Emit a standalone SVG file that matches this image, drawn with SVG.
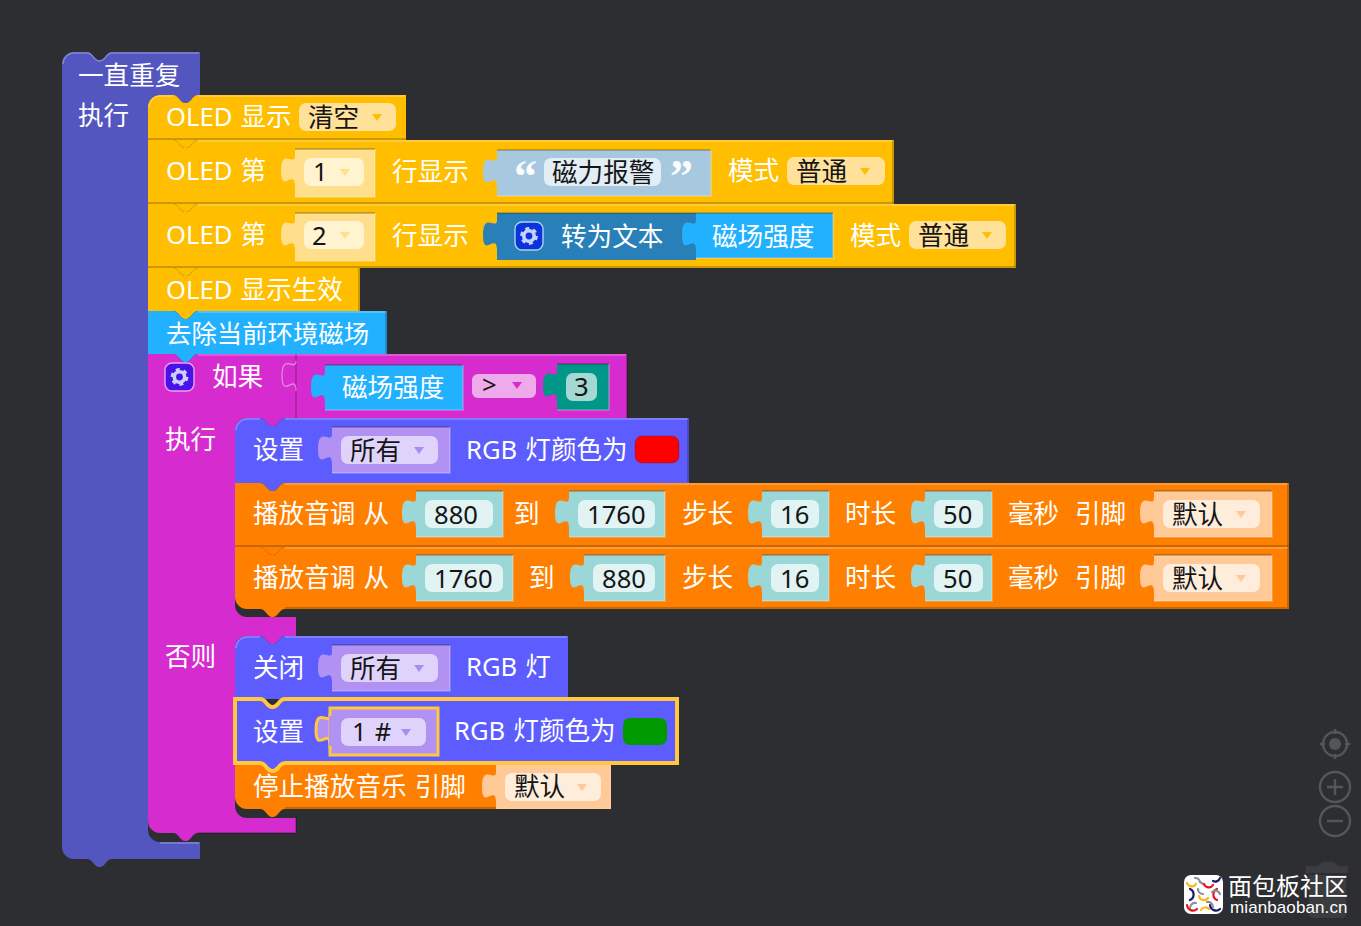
<svg xmlns="http://www.w3.org/2000/svg" xmlns:xlink="http://www.w3.org/1999/xlink" width="1361" height="926" viewBox="0 0 1361 926">
<style>
text{font-family:"Noto Sans","Noto Sans CJK SC",sans-serif;font-size:25.6px;fill:#fff;word-spacing:1.500px}
.f{fill:#151515}
.q{font-family:"Liberation Serif",serif;font-size:46px;font-weight:700}
.hi{fill:none;stroke:#fff;stroke-opacity:.28;stroke-width:1.5}
.lo{fill:none;stroke:#000;stroke-opacity:.2;stroke-width:2}
.top{fill:none;stroke:#000;stroke-opacity:.4;stroke-width:1.2}
.edge{fill:none;stroke:#fff;stroke-opacity:.2;stroke-width:2}
.yel{fill:#ffbf00}.yv{fill:#ffdf8c}.yf{fill:#fff3d0}.yd{fill:#ffe199}.ya{fill:#ffbf00}.yp{fill:#ffdf8c}
.sky{fill:#22b1ff}.pur{fill:#5c5cff}.pv{fill:#b192f2}.pf{fill:#e0d3fb}.pa{fill:#a98cf0}
.org{fill:#ff8000}.tv{fill:#9bd7d7}.tf{fill:#e1f3f3}.ov{fill:#ffc998}.of{fill:#ffeddc}.oa{fill:#ffc998}
.mag{fill:#d62ccf}.for{fill:#5356be}
.ctl{fill:none;stroke:#55565a;stroke-width:2.4}
</style>
<defs>
<path id="tab" d="M1 7H0c0 11-14-9-14 15s14-4 14 16h1z"/>
<polygon id="arr" points="-5,-3 5,-3 0,4"/>
<g id="gear">
<circle r="5.2" fill="none" stroke="#c9d2ff" stroke-width="3.6"/>
<circle r="7.6" fill="none" stroke="#c9d2ff" stroke-width="2.6" stroke-dasharray="4 3.96"/>
</g>
</defs>
<rect width="1361" height="926" fill="#2d2e32"/>

<!-- repeat-forever wrapper -->
<g id="forever">
<path class="for" d="M62 64a12 12 0 0 1 12-12h13c3 0 5 2 7 5c2 2 3 3 5 3h1c2 0 3-1 5-3c2-3 4-5 7-5H200V95H198c-3 0-5 2-7 5c-2 2-3 3-5 3h-1c-2 0-3-1-5-3c-2-3-4-5-7-5H160a12 12 0 0 0-12 12V830a12 12 0 0 0 12 12H200V859H112c-3 0-5 2-7 5c-2 2-3 3-5 3h-1c-2 0-3-1-5-3c-2-3-4-5-7-5H74a12 12 0 0 1-12-12z"/>
<path class="hi" d="M63 64a11 11 0 0 1 11-11h13c3 0 5 2 7 5c2 2 3 3 5 3h1c2 0 3-1 5-3c2-3 4-5 7-5H199M160 843H199"/>
<text x="78" y="85">一直重复</text>
<text x="78" y="125">执行</text>
</g>

<!-- if / else wrapper -->
<g id="if-else">
<path class="mag" d="M148 354H173c3 0 5 2 7 5c2 2 3 3 5 3h1c2 0 3-1 5-3c2-3 4-5 7-5H627V418H285c-3 0-5 2-7 5c-2 2-3 3-5 3h-1c-2 0-3-1-5-3c-2-3-4-5-7-5H247a12 12 0 0 0-12 12V605a12 12 0 0 0 12 12H296V636H285c-3 0-5 2-7 5c-2 2-3 3-5 3h-1c-2 0-3-1-5-3c-2-3-4-5-7-5H247a12 12 0 0 0-12 12V806a12 12 0 0 0 12 12H296V833H198c-3 0-5 2-7 5c-2 2-3 3-5 3h-1c-2 0-3-1-5-3c-2-3-4-5-7-5H160a12 12 0 0 1-12-12z"/>
<path class="hi" d="M198 355H626"/>
<path class="lo" d="M627 354V418M296 833H198M296 817V833"/>
<path d="M296 354V418" stroke="#000" stroke-opacity=".3" stroke-width="1.2"/>
<path fill="none" stroke="#fff" stroke-opacity=".45" stroke-width="1.2" d="M296 361c0 11-14-9-14 15s14-4 14 15"/>
<rect x="165" y="363" width="29" height="28" rx="7" fill="#4a12e8" stroke="#f0a0ee" stroke-width="1.4"/>
<use href="#gear" x="179.500" y="377"/>
<text x="212" y="386">如果</text>
<text x="165" y="449">执行</text>
<text x="165" y="666">否则</text>
</g>

<!-- OLED clear -->
<g id="oled-clear">
<path class="yel" d="M148 107a12 12 0 0 1 12-12h13c3 0 5 2 7 5c2 2 3 3 5 3h1c2 0 3-1 5-3c2-3 4-5 7-5H406V140H198c-3 0-5 2-7 5c-2 2-3 3-5 3h-1c-2 0-3-1-5-3c-2-3-4-5-7-5H148z"/>
<path class="hi" d="M149 107a11 11 0 0 1 11-11h13M198 96H405"/>
<rect class="yd" x="299" y="103" width="97" height="28" rx="7"/>
<use class="ya" href="#arr" x="377" y="117"/>
<text x="166" y="126">OLED 显示</text>
<text class="f" x="308" y="127">清空</text>
</g>

<!-- OLED line 1 -->
<g id="oled-line-1">
<path class="yel" d="M148 140H173c3 0 5 2 7 5c2 2 3 3 5 3h1c2 0 3-1 5-3c2-3 4-5 7-5H894V204H198c-3 0-5 2-7 5c-2 2-3 3-5 3h-1c-2 0-3-1-5-3c-2-3-4-5-7-5H148z"/>
<path class="lo" d="M148 139H406M893 140V203"/>
<path class="hi" d="M198 141H893"/>
<use class="yv" href="#tab" x="295" y="149"/>
<rect class="yv" x="295" y="149" width="80" height="48"/>
<path class="top" d="M295 149H375"/>
<path class="edge" d="M295 197H375V149"/>
<rect class="yf" x="304" y="158" width="60" height="28" rx="7"/>
<use class="yp" href="#arr" x="345" y="172"/>
<text class="f" x="313" y="181">1</text>
<text x="166" y="180">OLED 第</text>
<text x="392" y="181">行显示</text>
<use fill="#a8c8e0" href="#tab" x="497" y="150"/>
<rect x="497" y="150" width="214" height="46" fill="#a8c8e0"/>
<path class="top" d="M497 150H711"/>
<path class="edge" d="M497 196H711V150"/>
<rect x="544" y="158" width="117" height="28" rx="7" fill="#e2edf6"/>
<text class="f" x="552" y="182">磁力报警</text>
<text class="q" x="514" y="192" fill-opacity=".95">“</text>
<text class="q" x="670" y="192" fill-opacity=".95">”</text>
<text x="728" y="180">模式</text>
<rect class="yd" x="787" y="157" width="98" height="28" rx="7"/>
<use class="ya" href="#arr" x="865" y="171"/>
<text class="f" x="796" y="181">普通</text>
</g>

<!-- OLED line 2 -->
<g id="oled-line-2">
<path class="yel" d="M148 204H173c3 0 5 2 7 5c2 2 3 3 5 3h1c2 0 3-1 5-3c2-3 4-5 7-5H1016V268H198c-3 0-5 2-7 5c-2 2-3 3-5 3h-1c-2 0-3-1-5-3c-2-3-4-5-7-5H148z"/>
<path class="lo" d="M148 203H894M1015 204V267"/>
<path class="hi" d="M198 205H1015"/>
<use class="yv" href="#tab" x="295" y="213"/>
<rect class="yv" x="295" y="213" width="80" height="48"/>
<path class="top" d="M295 213H375"/>
<path class="edge" d="M295 261H375V213"/>
<rect class="yf" x="304" y="221" width="60" height="28" rx="7"/>
<use class="yp" href="#arr" x="345" y="235"/>
<text class="f" x="312" y="245">2</text>
<text x="166" y="244">OLED 第</text>
<text x="392" y="245">行显示</text>
<use fill="#2980b9" href="#tab" x="497" y="213"/>
<rect x="497" y="213" width="199" height="47" fill="#2980b9"/>
<path class="top" d="M497 213H696"/>
<rect x="515" y="222" width="28" height="28" rx="7" fill="#0a35dd" stroke="#a9d2f0" stroke-width="1.4"/>
<use href="#gear" x="529" y="236"/>
<text x="561" y="246">转为文本</text>
<use class="sky" href="#tab" x="696" y="213"/>
<rect class="sky" x="696" y="213" width="137" height="45"/>
<path class="top" d="M696 213H833"/>
<path class="edge" d="M696 258H833V213"/>
<text x="712" y="246">磁场强度</text>
<text x="850" y="245">模式</text>
<rect class="yd" x="909" y="221" width="97" height="28" rx="7"/>
<use class="ya" href="#arr" x="987" y="235"/>
<text class="f" x="918" y="245">普通</text>
</g>

<!-- OLED refresh -->
<g id="oled-refresh">
<path class="yel" d="M148 268H173c3 0 5 2 7 5c2 2 3 3 5 3h1c2 0 3-1 5-3c2-3 4-5 7-5H360V311H198c-3 0-5 2-7 5c-2 2-3 3-5 3h-1c-2 0-3-1-5-3c-2-3-4-5-7-5H148z"/>
<path class="lo" d="M148 267H1016M359 268V311"/>
<text x="166" y="299">OLED 显示生效</text>
</g>

<!-- remove ambient magnetic field -->
<g id="remove-ambient">
<path class="sky" d="M148 311H173c3 0 5 2 7 5c2 2 3 3 5 3h1c2 0 3-1 5-3c2-3 4-5 7-5H387V354H198c-3 0-5 2-7 5c-2 2-3 3-5 3h-1c-2 0-3-1-5-3c-2-3-4-5-7-5H148z"/>
<path class="hi" d="M198 312H386"/>
<path class="lo" d="M386 311V354"/>
<text x="166" y="343" style="font-size:25.400px">去除当前环境磁场</text>
</g>

<!-- condition: field strength > 3 -->
<g id="condition">
<use class="sky" href="#tab" x="325" y="365"/>
<rect class="sky" x="325" y="365" width="138" height="45"/>
<path class="top" d="M325 365H463"/>
<path class="edge" d="M325 410H463V365"/>
<text x="342" y="397">磁场强度</text>
<rect x="472" y="374" width="64" height="24" rx="6" fill="#efaaeb"/>
<text class="f" x="482" y="394">&gt;</text>
<use fill="#d62ccf" href="#arr" x="517" y="385"/>
<use fill="#009688" href="#tab" x="557" y="364"/>
<rect x="557" y="364" width="52" height="46" fill="#009688"/>
<path class="top" d="M557 364H609"/>
<path class="edge" d="M557 410H609V364"/>
<rect x="566" y="373" width="31" height="28" rx="7" fill="#a3d8d3"/>
<text class="f" x="574" y="396">3</text>
</g>

<!-- then branch -->
<g id="rgb-all-red">
<path class="pur" d="M235 430a12 12 0 0 1 12-12h13c3 0 5 2 7 5c2 2 3 3 5 3h1c2 0 3-1 5-3c2-3 4-5 7-5H689V483H285c-3 0-5 2-7 5c-2 2-3 3-5 3h-1c-2 0-3-1-5-3c-2-3-4-5-7-5H235z"/>
<path class="hi" d="M236 430a11 11 0 0 1 11-11h13M285 419H688"/>
<path class="lo" d="M688 418V482"/>
<use class="pv" href="#tab" x="332" y="427"/>
<rect class="pv" x="332" y="427" width="118" height="46"/>
<path class="top" d="M332 427H450"/>
<path class="edge" d="M332 473H450V427"/>
<rect class="pf" x="341" y="436" width="97" height="28" rx="7"/>
<use class="pa" href="#arr" x="419" y="450"/>
<text x="253" y="459">设置</text>
<text class="f" x="350" y="460">所有</text>
<text x="466" y="459">RGB 灯颜色为</text>
<rect x="635" y="436" width="44" height="27" rx="7" fill="#f00" stroke="#000" stroke-opacity=".15"/>
</g>

<g id="tone-up">
<path class="org" d="M235 483H260c3 0 5 2 7 5c2 2 3 3 5 3h1c2 0 3-1 5-3c2-3 4-5 7-5H1289V547H285c-3 0-5 2-7 5c-2 2-3 3-5 3h-1c-2 0-3-1-5-3c-2-3-4-5-7-5H235z"/>
<path class="hi" d="M285 484H1288"/>
<path class="lo" d="M1288 483V546"/>
<text x="253" y="523">播放音调 从</text>
<use class="tv" href="#tab" x="416" y="491"/><rect class="tv" x="416" y="491" width="87" height="46"/><path class="top" d="M416 491H503"/><path class="edge" d="M416 537H503V491"/>
<rect class="tf" x="425" y="500" width="68" height="28" rx="7"/>
<text class="f" x="434" y="524">880</text>
<text x="514" y="523">到</text>
<use class="tv" href="#tab" x="569" y="491"/><rect class="tv" x="569" y="491" width="96" height="46"/><path class="top" d="M569 491H665"/><path class="edge" d="M569 537H665V491"/>
<rect class="tf" x="578" y="500" width="77" height="28" rx="7"/>
<text class="f" x="587" y="524">1760</text>
<text x="682" y="523">步长</text>
<use class="tv" href="#tab" x="762" y="491"/><rect class="tv" x="762" y="491" width="67" height="46"/><path class="top" d="M762 491H829"/><path class="edge" d="M762 537H829V491"/>
<rect class="tf" x="771" y="500" width="48" height="28" rx="7"/>
<text class="f" x="780" y="524">16</text>
<text x="845" y="523">时长</text>
<use class="tv" href="#tab" x="925" y="491"/><rect class="tv" x="925" y="491" width="67" height="46"/><path class="top" d="M925 491H992"/><path class="edge" d="M925 537H992V491"/>
<rect class="tf" x="934" y="500" width="49" height="28" rx="7"/>
<text class="f" x="943" y="524">50</text>
<text x="1008" y="523">毫秒</text>
<text x="1075" y="523">引脚</text>
<use class="ov" href="#tab" x="1154" y="491"/><rect class="ov" x="1154" y="491" width="118" height="46"/><path class="top" d="M1154 491H1272"/><path class="edge" d="M1154 537H1272V491"/>
<rect class="of" x="1163" y="500" width="97" height="28" rx="7"/>
<use class="oa" href="#arr" x="1241" y="514"/>
<text class="f" x="1172" y="524">默认</text>
</g>

<g id="tone-down">
<path class="org" d="M235 547H260c3 0 5 2 7 5c2 2 3 3 5 3h1c2 0 3-1 5-3c2-3 4-5 7-5H1289V609H285c-3 0-5 2-7 5c-2 2-3 3-5 3h-1c-2 0-3-1-5-3c-2-3-4-5-7-5H247a12 12 0 0 1-12-12z"/>
<path class="hi" d="M285 548H1288"/>
<path class="lo" d="M235 546H1289M1288 547V608H285"/>
<text x="253" y="587">播放音调 从</text>
<use class="tv" href="#tab" x="416" y="555"/><rect class="tv" x="416" y="555" width="97" height="46"/><path class="top" d="M416 555H513"/><path class="edge" d="M416 601H513V555"/>
<rect class="tf" x="425" y="564" width="78" height="28" rx="7"/>
<text class="f" x="434" y="588">1760</text>
<text x="529" y="587">到</text>
<use class="tv" href="#tab" x="584" y="555"/><rect class="tv" x="584" y="555" width="81" height="46"/><path class="top" d="M584 555H665"/><path class="edge" d="M584 601H665V555"/>
<rect class="tf" x="593" y="564" width="62" height="28" rx="7"/>
<text class="f" x="602" y="588">880</text>
<text x="682" y="587">步长</text>
<use class="tv" href="#tab" x="762" y="555"/><rect class="tv" x="762" y="555" width="67" height="46"/><path class="top" d="M762 555H829"/><path class="edge" d="M762 601H829V555"/>
<rect class="tf" x="771" y="564" width="48" height="28" rx="7"/>
<text class="f" x="780" y="588">16</text>
<text x="845" y="587">时长</text>
<use class="tv" href="#tab" x="925" y="555"/><rect class="tv" x="925" y="555" width="67" height="46"/><path class="top" d="M925 555H992"/><path class="edge" d="M925 601H992V555"/>
<rect class="tf" x="934" y="564" width="49" height="28" rx="7"/>
<text class="f" x="943" y="588">50</text>
<text x="1008" y="587">毫秒</text>
<text x="1075" y="587">引脚</text>
<use class="ov" href="#tab" x="1154" y="555"/><rect class="ov" x="1154" y="555" width="118" height="46"/><path class="top" d="M1154 555H1272"/><path class="edge" d="M1154 601H1272V555"/>
<rect class="of" x="1163" y="564" width="97" height="28" rx="7"/>
<use class="oa" href="#arr" x="1241" y="578"/>
<text class="f" x="1172" y="588">默认</text>
</g>

<!-- else branch -->
<g id="rgb-off">
<path class="pur" d="M235 648a12 12 0 0 1 12-12h13c3 0 5 2 7 5c2 2 3 3 5 3h1c2 0 3-1 5-3c2-3 4-5 7-5H568V699H235z"/>
<path class="hi" d="M236 648a11 11 0 0 1 11-11h13M285 637H567"/>
<use class="pv" href="#tab" x="332" y="645"/>
<rect class="pv" x="332" y="645" width="118" height="46"/>
<path class="top" d="M332 645H450"/>
<path class="edge" d="M332 691H450V645"/>
<rect class="pf" x="341" y="654" width="97" height="28" rx="7"/>
<use class="pa" href="#arr" x="419" y="668"/>
<text x="253" y="677">关闭</text>
<text class="f" x="350" y="678">所有</text>
<text x="466" y="676">RGB 灯</text>
</g>

<g id="stop-tone">
<path class="org" d="M235 763H260c3 0 5 2 7 5c2 2 3 3 5 3h1c2 0 3-1 5-3c2-3 4-5 7-5H611V809H285c-3 0-5 2-7 5c-2 2-3 3-5 3h-1c-2 0-3-1-5-3c-2-3-4-5-7-5H247a12 12 0 0 1-12-12z"/>
<path class="lo" d="M285 808H496"/>
<use class="ov" href="#tab" x="496" y="765"/>
<rect class="ov" x="496" y="765" width="115" height="44"/>
<rect class="of" x="505" y="773" width="96" height="28" rx="7"/>
<use class="oa" href="#arr" x="582" y="787"/>
<text x="253" y="796">停止播放音乐 引脚</text>
<text class="f" x="514" y="796">默认</text>
</g>

<g id="rgb-one-green">
<path class="pur" stroke="#ffc83d" stroke-width="4" d="M235 699H260c3 0 5 2 7 5c2 2 3 3 5 3h1c2 0 3-1 5-3c2-3 4-5 7-5H677V763H285c-3 0-5 2-7 5c-2 2-3 3-5 3h-1c-2 0-3-1-5-3c-2-3-4-5-7-5H235z"/>
<use class="pv" href="#tab" x="330" y="708" stroke="#ffc83d" stroke-width="3"/>
<rect class="pv" x="330" y="708" width="108" height="47" stroke="#ffc83d" stroke-width="3"/>
<rect class="pv" x="329" y="716" width="4" height="30"/>
<rect class="pf" x="341" y="718" width="85" height="28" rx="7"/>
<use class="pa" href="#arr" x="406" y="732"/>
<text x="253" y="741">设置</text>
<text class="f" x="352" y="741">1 #</text>
<text x="454" y="740">RGB 灯颜色为</text>
<rect x="623" y="718" width="44" height="27" rx="7" fill="#090"/>
</g>

<!-- workspace controls -->
<g id="controls">
<circle class="ctl" cx="1335" cy="744" r="12"/>
<circle cx="1335" cy="744" r="6" fill="#55565a"/>
<path class="ctl" d="M1335 729v5M1335 754v5M1320 744h5M1345 744h5"/>
<circle class="ctl" cx="1335" cy="787" r="15"/>
<path class="ctl" d="M1335 779v16M1327 787h16"/>
<circle class="ctl" cx="1335" cy="821" r="15"/>
<path class="ctl" d="M1327 821h16"/>
</g>
<g id="trash" fill="#3b3c40">
<path d="M1306 866h12l4-4h12l4 4h10v7h-42z"/>
<path d="M1309 875h37v39a4 4 0 0 1-4 4h-29a4 4 0 0 1-4-4z"/>
</g>

<!-- site mark -->
<g id="site-mark">
<rect x="1184" y="875" width="39" height="39" rx="7" fill="#fff"/>
<g fill="none" stroke-width="2.200" stroke-linecap="round">
<path stroke="#fdb813" d="M1187 883a5 5 0 0 0 9 1"/>
<path stroke="#8a909a" d="M1195 878a5 5 0 0 1 5 4l3 2"/>
<path stroke="#e8141c" d="M1204 884a5 5 0 0 0 9 1"/>
<path stroke="#1b1b66" d="M1213 881a5 5 0 0 0 7-3"/>
<path stroke="#1b1b66" d="M1190 889a6 6 0 0 1 0 11"/>
<path stroke="#8a909a" d="M1198 889a5 5 0 0 0 5 5"/>
<path stroke="#fdb813" d="M1199 896a5 5 0 0 0 9 2"/>
<path stroke="#e8141c" d="M1217 889a6 6 0 0 0 0 11"/>
<path stroke="#8a909a" d="M1212 892a5 5 0 0 1 8 2"/>
<path stroke="#8a909a" d="M1190 908a5 5 0 0 1 6-5"/>
<path stroke="#e8141c" d="M1187 905a6 6 0 0 0 10 4"/>
<path stroke="#fdb813" d="M1201 910a5 5 0 0 1 8-1"/>
<path stroke="#8a909a" d="M1207 902a5 5 0 0 1 6 5"/>
<path stroke="#1b1b66" d="M1210 905a6 6 0 0 0 10 4"/>
</g>
<text x="1228" y="895" style="font-size:24px;font-family:'Noto Sans CJK SC',sans-serif" fill="#f4f4f4">面包板社区</text>
<text x="1230" y="913" style="font-size:17px;font-family:'Liberation Sans',sans-serif;letter-spacing:.1px" fill="#f0f0f0">mianbaoban.cn</text>
</g>
</svg>
